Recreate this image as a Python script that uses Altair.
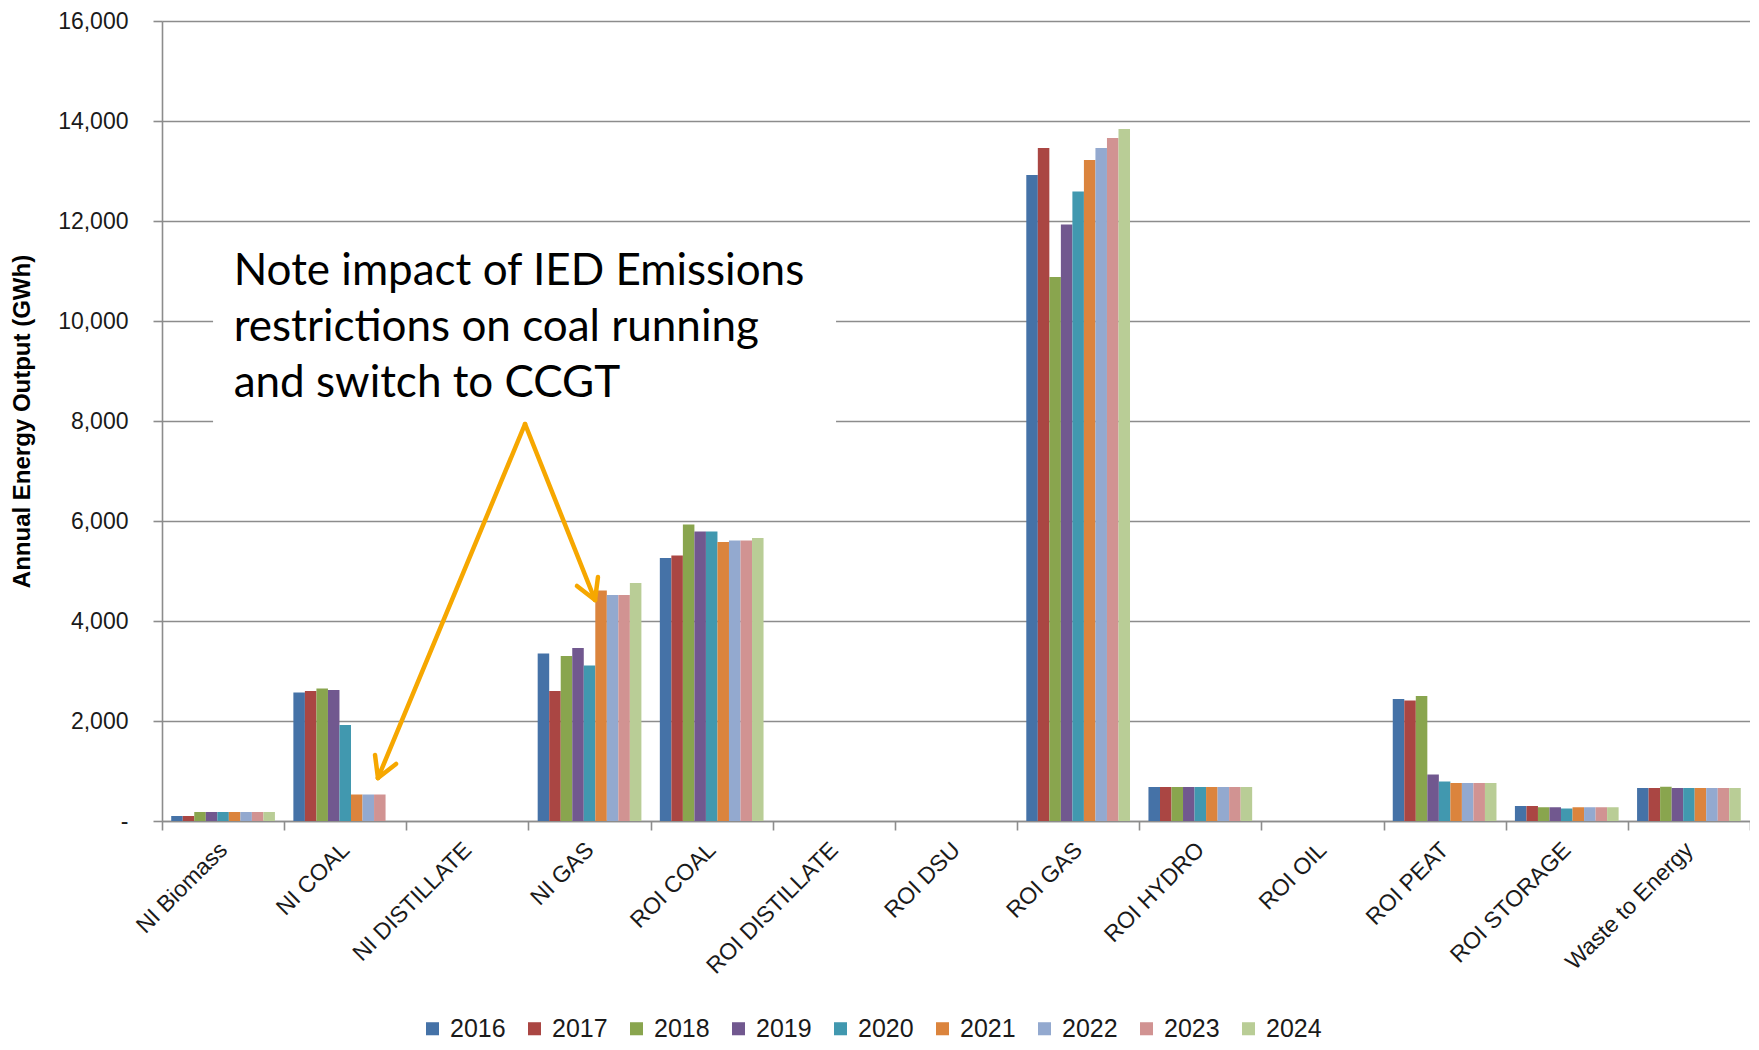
import altair as alt
import pandas as pd

# ---------------- data ----------------
categories = ["NI Biomass", "NI COAL", "NI DISTILLATE", "NI GAS", "ROI COAL",
              "ROI DISTILLATE", "ROI DSU", "ROI GAS", "ROI HYDRO", "ROI OIL",
              "ROI PEAT", "ROI STORAGE", "Waste to Energy"]
years = ["2016", "2017", "2018", "2019", "2020", "2021", "2022", "2023", "2024"]
year_colors = ["#4572A7", "#AA4643", "#89A54E", "#71588F", "#4198AF",
               "#DB843D", "#93A9CF", "#D19392", "#B9CD96"]

# values per category, one entry per year 2016..2024 (GWh)
ni_biomass = [100, 100, 180, 180, 180, 180, 180, 180, 180]
ni_coal = [2570, 2600, 2650, 2620, 1920, 530, 530, 530, 0]
ni_distillate = [0, 0, 0, 0, 0, 0, 0, 0, 0]
ni_gas = [3350, 2600, 3300, 3460, 3110, 4610, 4520, 4520, 4760]
roi_coal = [5260, 5310, 5930, 5790, 5790, 5580, 5610, 5610, 5660]
roi_distillate = [0, 0, 0, 0, 0, 0, 0, 0, 0]
roi_dsu = [0, 0, 0, 0, 0, 0, 0, 0, 0]
roi_gas = [12920, 13460, 10880, 11930, 12590, 13220, 13460, 13660, 13840]
roi_hydro = [680, 680, 680, 680, 680, 680, 680, 680, 680]
roi_oil = [0, 0, 0, 0, 0, 0, 0, 0, 0]
roi_peat = [2440, 2410, 2500, 930, 790, 760, 760, 760, 760]
roi_storage = [300, 300, 275, 275, 250, 275, 275, 275, 275]
waste_to_energy = [660, 660, 685, 660, 660, 660, 660, 660, 660]

series = [ni_biomass, ni_coal, ni_distillate, ni_gas, roi_coal, roi_distillate,
          roi_dsu, roi_gas, roi_hydro, roi_oil, roi_peat, roi_storage,
          waste_to_energy]

y_ticks = [0, 2000, 4000, 6000, 8000, 10000, 12000, 14000, 16000]
y_title = "Annual Energy Output (GWh)"

# annotation (x in category units from the left edge, y in GWh)
note_lines = ["Note impact of IED Emissions", "restrictions on coal running",
              "and switch to CCGT"]
note_x = [0.587, 0.587, 0.587]
note_y = [10720, 9600, 8480]
box_x = [0.418]
box_x2 = [5.518]
box_y = [11600]
box_y2 = [7900]
seg_x = [2.972, 2.972, 1.768, 1.768, 3.545, 3.545]
seg_y = [7940, 7940, 860, 860, 4420, 4420]
seg_x2 = [1.768, 3.545, 1.916, 1.744, 3.569, 3.397]
seg_y2 = [860, 4420, 1140, 1320, 4880, 4700]

# ---------------- tables ----------------
rows = []
for cat, vals in zip(categories, series):
    for yr, v in zip(years, vals):
        rows.append({"category": cat, "year": yr, "value": v})
bars_df = pd.DataFrame(rows)

note_df = pd.DataFrame({"ax": note_x, "value": note_y, "line": note_lines})
box_df = pd.DataFrame({"ax": box_x, "ax2": box_x2, "value": box_y, "value2": box_y2})
seg_df = pd.DataFrame({"ax": seg_x, "value": seg_y, "ax2": seg_x2, "value2": seg_y2})

GRAY = "#8c8c8c"
W, H = 1588, 800

yscale = alt.Scale(domain=[0, 16000], nice=False, zero=True)
yaxis = alt.Axis(
    values=y_ticks,
    labelExpr="datum.value == 0 ? '-\u2002' : format(datum.value, ',d')",
    labelFont="Liberation Sans", labelFontSize=23, labelColor="#1a1a1a",
    labelPadding=25, tickSize=9, tickColor=GRAY, tickWidth=1.6,
    domainColor=GRAY, domainWidth=1.6, grid=True, gridColor=GRAY, gridWidth=1.6,
    titleFont="Liberation Sans", titleFontSize=24, titleFontWeight="bold",
    titleColor="#000000", titleX=-140, titleY=H / 2, titleAngle=-90,
    titleAlign="center", titleBaseline="middle",
)

ax_scale = alt.Scale(domain=[0, 13], nice=False, zero=False)

bars = alt.Chart(bars_df).mark_bar().encode(
    x=alt.X("category:N", sort=categories, title=None,
            scale=alt.Scale(paddingInner=0, paddingOuter=0),
            axis=alt.Axis(labelAngle=-45, labelAlign="right", labelBaseline="middle",
                          labelFont="Liberation Sans", labelFontSize=23,
                          labelColor="#1a1a1a", labelPadding=16, labelLimit=400,
                          tickBand="extent", tickSize=9, tickColor=GRAY, tickWidth=1.6,
                          domainColor=GRAY, domainWidth=1.6, grid=False)),
    xOffset=alt.XOffset("year:N", sort=years,
                        scale=alt.Scale(paddingInner=0, paddingOuter=0.8)),
    y=alt.Y("value:Q", title=y_title, scale=yscale, axis=yaxis),
    color=alt.Color("year:N", sort=years,
                    scale=alt.Scale(domain=years, range=year_colors),
                    legend=alt.Legend(orient="none", legendX=258, legendY=995,
                                      direction="horizontal", title=None,
                                      symbolType="square", symbolSize=170,
                                      symbolStrokeWidth=0,
                                      labelFont="Liberation Sans", labelFontSize=25,
                                      labelColor="#1a1a1a", labelOffset=5,
                                      columnPadding=16)),
)

box = alt.Chart(box_df).mark_rect(color="white").encode(
    x=alt.X("ax:Q", scale=ax_scale, axis=None),
    x2="ax2:Q",
    y=alt.Y("value:Q", title=y_title, scale=yscale, axis=yaxis),
    y2="value2:Q",
)

note = alt.Chart(note_df).mark_text(
    align="left", baseline="alphabetic", font="Lato", fontSize=44, color="#000000"
).encode(
    x=alt.X("ax:Q", scale=ax_scale, axis=None),
    y=alt.Y("value:Q", title=y_title, scale=yscale, axis=yaxis),
    text="line:N",
)

arrows = alt.Chart(seg_df).mark_rule(
    color="#F6A700", strokeWidth=4.5, strokeCap="round"
).encode(
    x=alt.X("ax:Q", scale=ax_scale, axis=None),
    x2="ax2:Q",
    y=alt.Y("value:Q", title=y_title, scale=yscale, axis=yaxis),
    y2="value2:Q",
)

chart = alt.layer(bars, box, note, arrows).resolve_scale(
    x="independent"
).properties(
    width=W, height=H,
    autosize=alt.AutoSizeParams(type="none"),
    padding={"left": 154, "top": 13, "right": 0, "bottom": 220},
).configure_view(stroke=None).configure(background="white")

chart.save("out.html", embed_options={"renderer": "svg", "actions": False})
